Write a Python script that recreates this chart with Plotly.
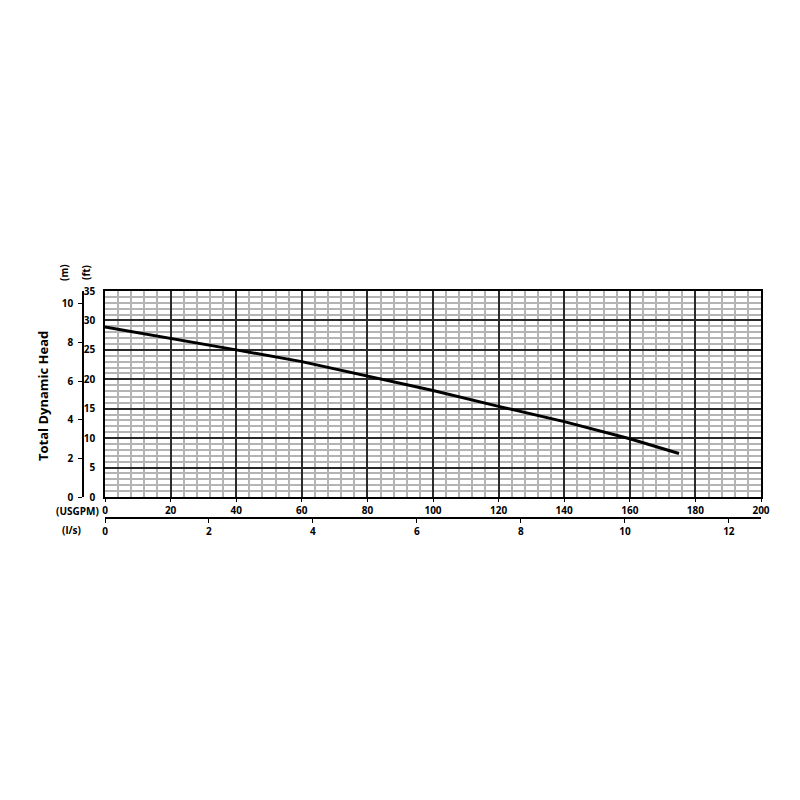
import plotly.graph_objects as go

# pump curve
usgpm = [0, 20, 40, 60, 80, 100, 120, 140, 160, 175]
head_ft = [28.9, 27.0, 25.0, 23.0, 20.6, 18.1, 15.4, 12.8, 9.9, 7.4]

ft_ticks = [0, 5, 10, 15, 20, 25, 30, 35]
m_ticks = [0, 2, 4, 6, 8, 10]
gpm_ticks = [0, 20, 40, 60, 80, 100, 120, 140, 160, 180, 200]
lps_ticks = [0, 2, 4, 6, 8, 10, 12]

FT_PER_M = 3.28084
GPM_PER_LPS = 15.8503

fnt = dict(family="Open Sans", size=10, color="black", weight="bold")

fig = go.Figure()
fig.add_trace(go.Scatter(
    x=usgpm, y=head_ft, mode="lines",
    line=dict(color="black", width=3), showlegend=False, hoverinfo="skip"
))
# invisible trace so the metric axes are drawn
fig.add_trace(go.Scatter(
    x=[v / GPM_PER_LPS for v in usgpm], y=[v / FT_PER_M for v in head_ft],
    xaxis="x2", yaxis="y2", mode="lines", line=dict(color="rgba(0,0,0,0)"),
    showlegend=False, hoverinfo="skip"
))

# page is drawn with an 8px body margin -> shift everything back
OFF = 7
W, H = 800, 800
pl, pr, pt, pb = 40 - OFF, 40 + OFF, 290 - OFF, 283 + OFF   # paper area
plot_left, plot_bottom = 104, 496
xdom0 = (plot_left - 40) / 720
ydom0 = (517 - plot_bottom) / 227

fig.update_layout(
    width=W, height=H, paper_bgcolor="white", plot_bgcolor="white",
    margin=dict(l=pl, r=pr, t=pt, b=pb),
    xaxis=dict(
        domain=[xdom0, 1], range=[0, 200], tickvals=gpm_ticks, tickfont=fnt,
        showgrid=True, gridcolor="#2a2a2a", gridwidth=1.5,
        minor=dict(dtick=4, showgrid=True, gridcolor="#b4b4b4", gridwidth=1.6),
        showline=True, linecolor="black", linewidth=1.5, mirror=True,
        ticks="outside", ticklen=3, tickcolor="black", zeroline=False,
    ),
    yaxis=dict(
        domain=[ydom0, 1], range=[0, 35], tickvals=ft_ticks, tickfont=fnt,
        showgrid=True, gridcolor="#2a2a2a", gridwidth=1.5,
        minor=dict(dtick=1, showgrid=True, gridcolor="#b4b4b4", gridwidth=1.6),
        showline=True, linecolor="black", linewidth=1.5, mirror=True,
        ticks="", zeroline=False, ticklabelstandoff=6,
    ),
    xaxis2=dict(
        overlaying="x", anchor="free", position=0, domain=[xdom0, 1],
        range=[0, 200 / GPM_PER_LPS], tickvals=lps_ticks, tickfont=fnt,
        showgrid=False, zeroline=False, showline=True, linecolor="black",
        linewidth=1.5, ticks="outside", ticklen=4, tickcolor="black",
    ),
    yaxis2=dict(
        overlaying="y", anchor="free", side="left",
        position=(82 - 40) / 720,
        range=[0, 35 / FT_PER_M], tickvals=m_ticks, tickfont=fnt,
        showgrid=False, zeroline=False, showline=True, linecolor="black",
        linewidth=1.5, ticks="outside", ticklen=4, tickcolor="black",
        ticklabelstandoff=3,
    ),
)

# annotations placed in page pixels
def ann(text, x, y, angle=0, size=10):
    fig.add_annotation(
        text=text, x=(x - 40) / 720, y=(517 - y) / 227,
        xref="paper", yref="paper", showarrow=False, textangle=angle,
        xanchor="center", yanchor="middle",
        font=dict(family="Open Sans", size=size, color="black", weight="bold"),
    )

ann("Total Dynamic Head", 42, 395, angle=-90, size=13)
ann("(m)", 63, 272, angle=-90, size=10)
ann("(ft)", 85, 272, angle=-90, size=10)
ann("(USGPM)", 76, 510, size=10)
ann("(l/s)", 70, 529, size=10)

fig.write_html("out.html")
